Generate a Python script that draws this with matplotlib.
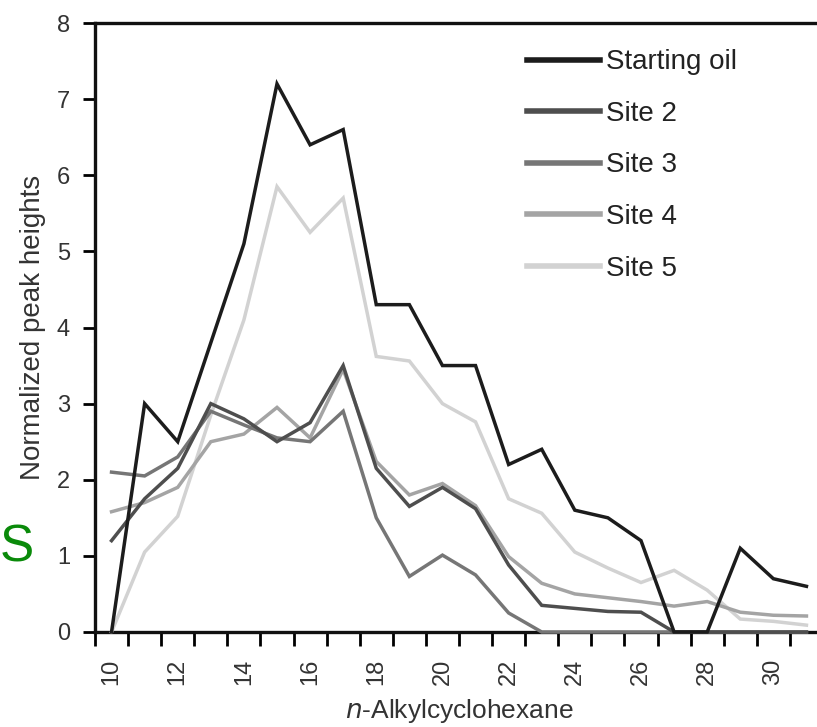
"""Normalized n-alkylcyclohexane peak heights for the starting oil and sites 2-5."""

import matplotlib

matplotlib.use("Agg")
import matplotlib.pyplot as plt
import numpy as np

carbon_number = np.arange(10, 32)

starting_oil = [0.0, 3.0, 2.5, 3.8, 5.1, 7.2, 6.4, 6.6, 4.3, 4.3, 3.5,
                3.5, 2.2, 2.4, 1.6, 1.5, 1.2, 0.0, 0.0, 1.1, 0.7, 0.6]
site_2 = [1.2, 1.75, 2.15, 3.0, 2.8, 2.5, 2.75, 3.5, 2.15, 1.65, 1.9,
          1.62, 0.88, 0.35, 0.31, 0.27, 0.26, 0.0, 0.0, 0.0, 0.0, 0.0]
site_3 = [2.1, 2.05, 2.3, 2.9, 2.72, 2.55, 2.5, 2.9, 1.5, 0.73, 1.01,
          0.75, 0.25, 0.0, 0.0, 0.0, 0.0, 0.0, 0.0, 0.0, 0.0, 0.0]
site_4 = [1.58, 1.7, 1.9, 2.5, 2.6, 2.95, 2.55, 3.45, 2.24, 1.8, 1.95,
          1.66, 0.99, 0.64, 0.5, 0.45, 0.4, 0.34, 0.4, 0.26, 0.22, 0.21]
site_5 = [0.0, 1.05, 1.52, 2.85, 4.1, 5.85, 5.25, 5.7, 3.62, 3.56, 3.0,
          2.76, 1.75, 1.56, 1.05, 0.84, 0.65, 0.81, 0.55, 0.17, 0.14, 0.09]

series_labels = ["Starting oil", "Site 2", "Site 3", "Site 4", "Site 5"]
series_colors = ["#1c1c1c", "#4e4e4e", "#767676", "#a4a4a4", "#d2d2d2"]

x_tick_labels = [str(v) for v in range(10, 31, 2)]

plt.rcParams["font.family"] = ["Liberation Sans", "DejaVu Sans"]

fig = plt.figure(figsize=(8.17, 7.27), dpi=100)
ax = fig.add_axes([95 / 817, 1 - 632 / 727, 728 / 817, 609 / 727])

all_series = [starting_oil, site_2, site_3, site_4, site_5]
# darker lines sit on top of the lighter ones
for values, label, color, z in zip(all_series, series_labels, series_colors,
                                   [10, 9, 8, 7, 6]):
    ax.plot(carbon_number, values, color=color, lw=2.5, label=label,
            zorder=z, clip_on=False, solid_joinstyle="miter")

ax.set_xlim(9.5, 31.5)
ax.set_ylim(0, 8)

ax.set_xticks(np.arange(10, 31, 2))
ax.set_xticklabels(x_tick_labels, rotation=90, fontsize=17, color="#333333")
ax.set_xticks(np.arange(9.5, 31.6, 1), minor=True)
ax.tick_params(axis="x", which="major", length=0, pad=19)
ax.tick_params(axis="x", which="minor", length=10, width=2, direction="out")
ax.set_yticks(np.arange(0, 9))
ax.tick_params(axis="y", length=9, width=2, direction="out",
               labelsize=17, labelcolor="#333333", pad=9)

for side in ["left", "bottom", "top"]:
    ax.spines[side].set_linewidth(2.4)
    ax.spines[side].set_color("#111111")
ax.spines["right"].set_visible(False)

ax.set_ylabel("Normalized peak heights", fontsize=20, color="#333333",
              labelpad=8)
ax.set_xlabel("$n$-Alkylcyclohexane", fontsize=19, color="#333333",
              labelpad=9)

leg = ax.legend(loc="upper left", bbox_to_anchor=(0.578, 0.975), frameon=False,
                fontsize=20, handlelength=2.63, handletextpad=0.2,
                labelspacing=0.92, borderaxespad=0)
for line in leg.get_lines():
    line.set_linewidth(4)
for text in leg.get_texts():
    text.set_color("#222222")

fig.text(0.0, 1 - 548 / 727, "S", color="#0a8a0a", fontsize=37,
         ha="left", va="center")

fig.savefig("out.png", dpi=100)
